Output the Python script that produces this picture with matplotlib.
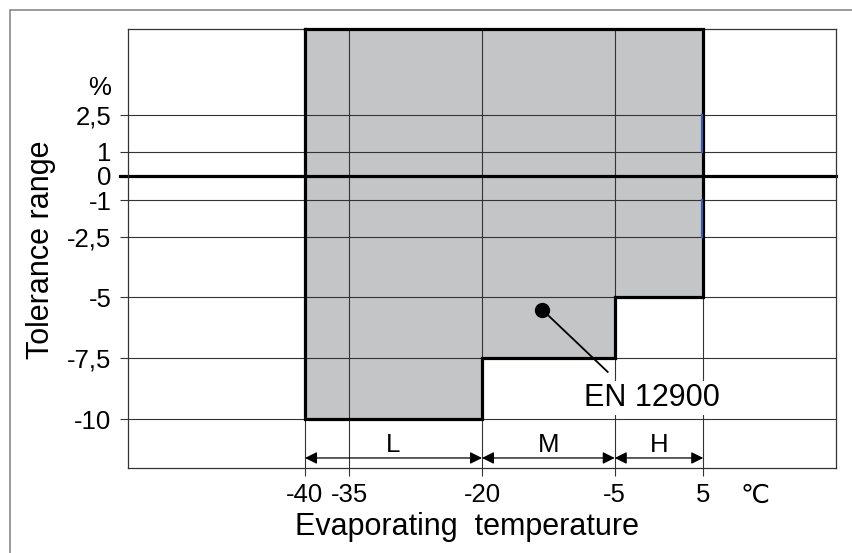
import numpy as np
import matplotlib
matplotlib.use('Agg')
import matplotlib.pyplot as plt
from matplotlib.patches import Rectangle

plt.rcParams['font.family'] = ['Liberation Sans', 'DejaVu Sans']

# ---------------------------------------------------------------
# datos
temps = [-40, -35, -20, -5, 5]                    # grilla vertical (C)
temp_labels = ['-40', '-35', '-20', '-5', '5']
tol_ticks = [2.5, 1, 0, -1, -2.5, -5, -7.5, -10]  # grilla horizontal (%)
tol_labels = ['2,5', '1', '0', '-1', '-2,5', '-5', '-7,5', '-10']

band_edges = [-40, -20, -5, 5]       # limites de las bandas L / M / H
band_lower = [-10, -7.5, -5]         # tolerancia inferior de cada banda
band_names = ['L', 'M', 'H']
blue_marks = [(1, 2.5), (-2.5, -1)]  # tramos azules sobre x = 5

dot = (-13.2, -5.5)
dot_end = (-5.8, -8.06)

ylim = (-12.0, 6.04)
xlim = (-60, 20)

grid_c = '#333333'
gray = '#c4c5c7'

fig = plt.figure(figsize=(8.53, 5.53), dpi=100)
ax = fig.add_axes([128/853, 1-467.7/553, 708/853, 438.7/553])
ax.set_xlim(*xlim)
ax.set_ylim(*ylim)

# marco exterior (solo se ven arriba y a la izquierda)
fig.patches.append(Rectangle((10/853, -0.2), 1.2, 1.2 - 10/553, transform=fig.transFigure,
                             fill=False, edgecolor='#8a8a8a', lw=1.2))

# zona gris
top = ylim[1]
xs = [band_edges[0]]
ys = [top]
for k in range(len(band_lower)):
    xs += [band_edges[k], band_edges[k+1]]
    ys += [band_lower[k], band_lower[k]]
xs += [band_edges[-1]]
ys += [top]
ax.fill(xs, ys, color=gray, lw=0, zorder=1)
ax.plot(xs + [xs[0]], ys + [ys[0]], color='black', lw=2.3, zorder=2.6,
        clip_on=False, solid_joinstyle='miter')

# grilla
ax.set_yticks(tol_ticks, tol_labels)
ax.set_xticks(temps, temp_labels)
ax.grid(True, color=grid_c, lw=0.8)
ax.tick_params(axis='both', length=5.8, width=0.8, color=grid_c, labelsize=18.5)
ax.tick_params(axis='y', pad=6)
ax.tick_params(axis='x', pad=5)
for s in ax.spines.values():
    s.set_color(grid_c)
    s.set_linewidth(0.9)

ax.axhline(0, xmin=-8/708, xmax=1, color='black', lw=2.3, clip_on=False, zorder=2.5)

for lo, hi in blue_marks:
    ax.plot([4.82, 4.82], [lo, hi], color='#3f58a8', lw=1.6, zorder=3)

# bandas L M H
arr_y = -11.6
for k, name in enumerate(band_names):
    ax.annotate('', xy=(band_edges[k+1], arr_y), xytext=(band_edges[k], arr_y),
                arrowprops=dict(arrowstyle='<|-|>,head_length=0.72,head_width=0.36',
                                color='black', lw=0.9, shrinkA=0, shrinkB=0,
                                mutation_scale=10), zorder=3)
    ax.text((band_edges[k] + band_edges[k+1]) / 2, -11.35, name, ha='center',
            va='baseline', fontsize=18.5)

# EN 12900
ax.plot([dot[0], dot_end[0]], [dot[1], dot_end[1]], color='black', lw=1.3, zorder=3)
ax.plot(*dot, 'o', color='black', ms=10, zorder=4)
ax.text(-0.75, -9.46, 'EN 12900', ha='center', va='baseline', fontsize=22, zorder=5,
        bbox=dict(facecolor='white', edgecolor='none', pad=1.5))

ax.text(10.8, -13.44, '℃', ha='center', va='baseline', fontsize=18.5, clip_on=False,
        family=['DejaVu Sans'])

fig.text(100/853, 1-95/553, '%', ha='center', va='baseline', fontsize=18.5)
fig.text(41/853, 1-250/553, 'Tolerance range', ha='center', va='center',
         rotation=90, fontsize=22)
fig.text(466.6/853, 1-535/553, 'Evaporating  temperature', ha='center', va='baseline',
         fontsize=22)

fig.savefig('out.png', dpi=100)
